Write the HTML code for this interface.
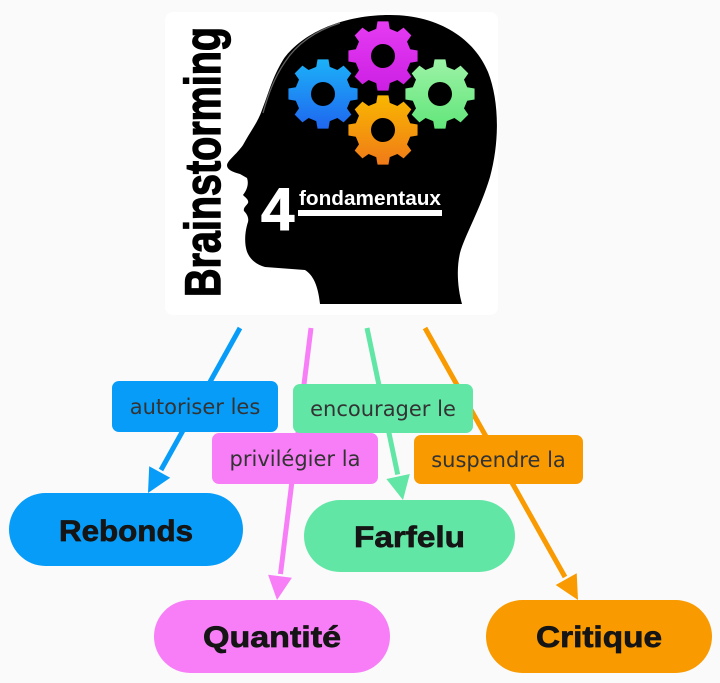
<!DOCTYPE html>
<html>
<head>
<meta charset="utf-8">
<style>
  html, body { margin:0; padding:0; background:#fafafa; }
  svg { display:block; }
</style>
</head>
<body>
<svg width="720" height="683" viewBox="0 0 720 683" xmlns="http://www.w3.org/2000/svg">
  <defs>
    <linearGradient id="gBlue" gradientUnits="userSpaceOnUse" x1="0" y1="-35" x2="0" y2="35">
      <stop offset="0" stop-color="#1cb2f8"/>
      <stop offset="1" stop-color="#1f66ef"/>
    </linearGradient>
    <linearGradient id="gMag" gradientUnits="userSpaceOnUse" x1="0" y1="-35" x2="0" y2="35">
      <stop offset="0" stop-color="#e63cf2"/>
      <stop offset="1" stop-color="#cc1fe4"/>
    </linearGradient>
    <linearGradient id="gGreen" gradientUnits="userSpaceOnUse" x1="0" y1="-35" x2="0" y2="35">
      <stop offset="0" stop-color="#9cf2a6"/>
      <stop offset="1" stop-color="#62e67a"/>
    </linearGradient>
    <linearGradient id="gOrange" gradientUnits="userSpaceOnUse" x1="0" y1="-35" x2="0" y2="35">
      <stop offset="0" stop-color="#f9b800"/>
      <stop offset="1" stop-color="#f07a18"/>
    </linearGradient>
    <path id="gear" fill-rule="evenodd" d="
      M -6.77,-27.17 L -5.47,-34.57 L 5.47,-34.57 L 6.77,-27.17
      L 14.42,-24.00 L 20.57,-28.32 L 28.32,-20.57 L 24.00,-14.42
      L 27.17,-6.77 L 34.57,-5.47 L 34.57,5.47 L 27.17,6.77
      L 24.00,14.42 L 28.32,20.57 L 20.57,28.32 L 14.42,24.00
      L 6.77,27.17 L 5.47,34.57 L -5.47,34.57 L -6.77,27.17
      L -14.42,24.00 L -20.57,28.32 L -28.32,20.57 L -24.00,14.42
      L -27.17,6.77 L -34.57,5.47 L -34.57,-5.47 L -27.17,-6.77
      L -24.00,-14.42 L -28.32,-20.57 L -20.57,-28.32 L -14.42,-24.00 Z
      M 12,0 A 12,12 0 1,0 -12,0 A 12,12 0 1,0 12,0 Z"/>
  </defs>

  <rect x="0" y="0" width="720" height="683" fill="#fafafa"/>

  <!-- Image card -->
  <rect x="165" y="12" width="333" height="303" rx="8" ry="8" fill="#ffffff"/>

  <!-- Head silhouette -->
  <path fill="#000" d="
    M 320,304 L 462,304
    C 458,290 456,270 460,253
    C 465,235 480,210 490,177
    C 500,140 499,100 488,72
    C 475,40 440,15 390,15
    C 340,15 300,35 283,60
    C 272,78 268,95 262,110
    C 258,122 250,132 243,145
    C 236,155 228,160 227,165
    C 227,170 233,172 240,174
    L 247,178
    C 249,184 247,190 243,195
    C 246,198 249,200 248,203
    C 246,206 243,208 244,211
    C 247,214 249,218 248,222
    C 246,228 244,238 246,248
    C 248,258 255,264 265,267
    L 305,270
    C 313,275 318,285 320,304 Z"/>
  <path d="M 263,113 C 268,95 274,78 285,62 C 298,42 318,30 340,23" fill="none" stroke="#8a8a8a" stroke-width="1.3" opacity="0.7"/>

  <!-- Gears -->
  <use href="#gear" transform="translate(383,56)" fill="url(#gMag)"/>
  <use href="#gear" transform="translate(323,94)" fill="url(#gBlue)"/>
  <use href="#gear" transform="translate(440,94)" fill="url(#gGreen)"/>
  <use href="#gear" transform="translate(383,130)" fill="url(#gOrange)"/>

  <!-- 4 fondamentaux -->
  <text x="261" y="230" font-family="Liberation Sans, sans-serif" font-weight="bold" font-size="60" fill="#fff" stroke="#fff" stroke-width="1">4</text>
  <text x="299" y="205" font-family="Liberation Sans, sans-serif" font-weight="bold" font-size="20" fill="#fff" textLength="142" lengthAdjust="spacingAndGlyphs">fondamentaux</text>
  <rect x="298" y="210" width="144" height="6" fill="#fff"/>

  <!-- Brainstorming vertical -->
  <text transform="translate(220,297) rotate(-90)" x="0" y="0" font-family="Liberation Sans, sans-serif" font-weight="bold" font-size="50" fill="#000" stroke="#000" stroke-width="1.4" textLength="270" lengthAdjust="spacingAndGlyphs">Brainstorming</text>

  <!-- Connectors -->
  <g stroke-width="5" stroke-linecap="butt" fill="none">
    <line x1="240" y1="328" x2="161" y2="470" stroke="#079cf8"/>
    <line x1="311" y1="328" x2="280.5" y2="574" stroke="#f77ef7"/>
    <line x1="367" y1="328" x2="397.7" y2="474.5" stroke="#62e6a6"/>
    <line x1="425" y1="328" x2="565" y2="577" stroke="#f89a00"/>
  </g>
  <polygon points="148,493 170.2,477.8 149.2,466.2" fill="#079cf8"/>
  <polygon points="277,600 291.9,577.7 268.1,574.7" fill="#f77ef7"/>
  <polygon points="403,500 409.8,474.0 386.4,479.0" fill="#62e6a6"/>
  <polygon points="578,600 576.7,573.2 555.7,585.0" fill="#f89a00"/>

  <!-- Connector labels -->
  <g font-family="DejaVu Sans, Liberation Sans, sans-serif" font-size="21" fill="#333" text-anchor="middle">
    <rect x="112" y="381" width="166" height="51" rx="7" fill="#079cf8"/>
    <text x="195" y="414">autoriser les</text>

    <rect x="293" y="384" width="180" height="49" rx="7" fill="#62e6a6"/>
    <text x="383" y="416">encourager le</text>

    <rect x="212" y="433" width="166" height="51" rx="7" fill="#f77ef7"/>
    <text x="295" y="466">privilégier la</text>

    <rect x="414" y="435" width="169" height="49" rx="7" fill="#f89a00"/>
    <text x="498.5" y="467">suspendre la</text>
  </g>

  <!-- Nodes -->
  <g font-family="Liberation Sans, sans-serif" font-weight="bold" font-size="30" fill="#151515" text-anchor="middle">
    <rect x="9" y="493" width="234" height="73" rx="36.5" fill="#079cf8"/>
    <text x="126" y="541" textLength="134" lengthAdjust="spacingAndGlyphs" stroke="#151515" stroke-width="0.7">Rebonds</text>

    <rect x="304" y="500" width="211" height="72" rx="36" fill="#62e6a6"/>
    <text x="409.5" y="547" textLength="111" lengthAdjust="spacingAndGlyphs" stroke="#151515" stroke-width="0.7">Farfelu</text>

    <rect x="154" y="600" width="236" height="73" rx="36.5" fill="#f77ef7"/>
    <text x="272" y="647" textLength="138" lengthAdjust="spacingAndGlyphs" stroke="#151515" stroke-width="0.7">Quantité</text>

    <rect x="486" y="600" width="226" height="73" rx="36.5" fill="#f89a00"/>
    <text x="599" y="647" textLength="126" lengthAdjust="spacingAndGlyphs" stroke="#151515" stroke-width="0.7">Critique</text>
  </g>
</svg>
</body>
</html>
